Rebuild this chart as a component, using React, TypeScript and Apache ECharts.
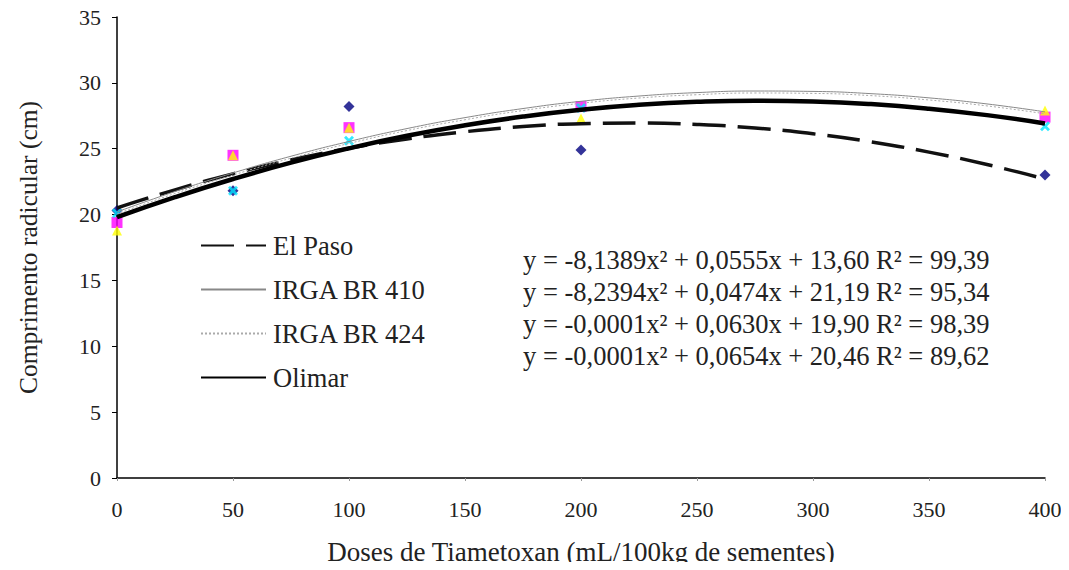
import React, { useEffect, useRef } from "react";
import * as echarts from "echarts";

// Observed doses (x) and root lengths for each cultivar
const doses = [0, 50, 100, 200, 400];
const elPasoPts = [20.3, 21.8, 28.2, 24.9, 23.0];
const irga410Pts = [19.4, 24.5, 26.6, 28.2, 27.4];
const irga424Pts = [18.8, 24.5, 26.6, 27.3, 27.9];
const olimarPts = [20.1, 21.8, 25.6, 28.1, 26.7];

// Trend curves (every 25 units)
const curveX = [0, 25, 50, 75, 100, 125, 150, 175, 200, 225, 250, 275, 300, 325, 350, 375, 400];
const elPasoCurve = [20.5, 21.88, 23.09, 24.14, 25.03, 25.74, 26.29, 26.68, 26.9, 26.95, 26.84, 26.57, 26.13, 25.52, 24.74, 23.8, 22.7];
const irga410Curve = [20.2, 21.75, 23.16, 24.43, 25.55, 26.53, 27.36, 28.05, 28.6, 29.0, 29.26, 29.38, 29.35, 29.18, 28.86, 28.4, 27.8];
const irga424Curve = [20.05, 21.6, 23.0, 24.28, 25.4, 26.38, 27.2, 27.9, 28.45, 28.85, 29.1, 29.23, 29.2, 29.03, 28.7, 28.25, 27.65];
const olimarCurve = [19.8, 21.32, 22.7, 23.94, 25.03, 25.98, 26.78, 27.44, 27.96, 28.33, 28.56, 28.65, 28.59, 28.39, 28.04, 27.55, 26.92];

const seriesNames = ["El Paso", "IRGA BR 410", "IRGA BR 424", "Olimar"];
const equations = [
  "y = -8,1389x² + 0,0555x + 13,60 R² = 99,39",
  "y = -8,2394x² + 0,0474x + 21,19 R² = 95,34",
  "y = -0,0001x² + 0,0630x + 19,90 R² = 98,39",
  "y = -0,0001x² + 0,0654x + 20,46 R² = 89,62",
];
const yTicks = [0, 5, 10, 15, 20, 25, 30, 35];
const xTicks = [0, 50, 100, 150, 200, 250, 300, 350, 400];

const FONT = "Liberation Serif";

const pair = (xs: number[], ys: number[]) => xs.map((x, i) => [x, ys[i]]);

export default function App() {
  const ref = useRef<HTMLDivElement>(null);
  useEffect(() => {
    if (!ref.current) return;
    const chart = echarts.init(ref.current, undefined, { renderer: "svg" });
    const crossPath = "path://M0,2L2,0L5,3L8,0L10,2L7,5L10,8L8,10L5,7L2,10L0,8L3,5Z";
    const option: any = {
      animation: false,
      backgroundColor: "#ffffff",
      grid: { left: 117, right: 24, top: 17, bottom: 92 },
      xAxis: {
        type: "value",
        min: xTicks[0],
        max: xTicks[xTicks.length - 1],
        interval: 50,
        name: "Doses de Tiametoxan (mL/100kg de sementes)",
        nameLocation: "middle",
        nameGap: 60,
        nameTextStyle: { fontFamily: FONT, fontSize: 27, color: "#222" },
        axisLine: { lineStyle: { color: "#000", width: 1.5 } },
        axisTick: { show: true, length: 3, lineStyle: { color: "#999" } },
        axisLabel: { fontFamily: FONT, fontSize: 22, color: "#222", margin: 20 },
        splitLine: { show: false },
      },
      yAxis: {
        type: "value",
        min: yTicks[0],
        max: yTicks[yTicks.length - 1],
        interval: 5,
        name: "Comprimento radicular (cm)",
        nameLocation: "middle",
        nameGap: 76,
        nameTextStyle: { fontFamily: FONT, fontSize: 25.5, color: "#222" },
        axisLine: { show: true, lineStyle: { color: "#000", width: 1.5 } },
        axisTick: { show: true, length: 5, lineStyle: { color: "#000" } },
        axisLabel: { fontFamily: FONT, fontSize: 22, color: "#222", margin: 16 },
        splitLine: { show: false },
      },
      legend: {
        orient: "vertical",
        left: 195,
        top: 227,
        itemWidth: 65,
        itemHeight: 14,
        itemGap: 17,
        data: seriesNames,
        itemStyle: { opacity: 0 },
        textStyle: { fontFamily: FONT, fontSize: 26.5, color: "#222", padding: [0, 0, 0, 2] },
      },
      graphic: equations.map((t, i) => ({
        type: "text",
        left: 523,
        top: 246 + i * 32.3,
        style: { text: t, fontFamily: FONT, fontSize: 26.5, fill: "#222" },
      })),
      series: [
        {
          type: "scatter",
          name: "pts-El Paso",
          data: pair(doses, elPasoPts),
          symbol: "diamond",
          symbolSize: 11,
          itemStyle: { color: "#000080" },
          z: 2,
        },
        {
          type: "scatter",
          name: "pts-IRGA BR 410",
          data: pair(doses, irga410Pts),
          symbol: "rect",
          symbolSize: 11,
          itemStyle: { color: "#ff00ff" },
          z: 2,
        },
        {
          type: "scatter",
          name: "pts-IRGA BR 424",
          data: pair(doses, irga424Pts),
          symbol: "triangle",
          symbolSize: 10,
          itemStyle: { color: "#ffff00" },
          z: 2,
        },
        {
          type: "scatter",
          name: "pts-Olimar",
          data: pair(doses, olimarPts),
          symbol: crossPath,
          symbolSize: 10,
          itemStyle: { color: "#00e5ff" },
          z: 2,
        },
        {
          type: "line",
          name: "El Paso",
          data: pair(curveX, elPasoCurve),
          smooth: true,
          symbol: "none",
          color: "#111",
          lineStyle: { color: "#111", width: 3.5, type: [33, 12] },
          z: 3,
        },
        {
          type: "line",
          name: "IRGA BR 410",
          data: pair(curveX, irga410Curve),
          smooth: true,
          symbol: "none",
          color: "#888",
          lineStyle: { color: "#888", width: 1 },
          z: 3,
        },
        {
          type: "line",
          name: "IRGA BR 424",
          data: pair(curveX, irga424Curve),
          smooth: true,
          symbol: "none",
          color: "#aaa",
          lineStyle: { color: "#aaa", width: 1, type: [2, 2] },
          z: 3,
        },
        {
          type: "line",
          name: "Olimar",
          data: pair(curveX, olimarCurve),
          smooth: true,
          symbol: "none",
          color: "#000",
          lineStyle: { color: "#000", width: 4.5 },
          z: 3,
        },
      ],
    };
    chart.setOption(option);
    return () => chart.dispose();
  }, []);
  return <div ref={ref} style={{ width: 1069, height: 570, margin: -8 }} />;
}
